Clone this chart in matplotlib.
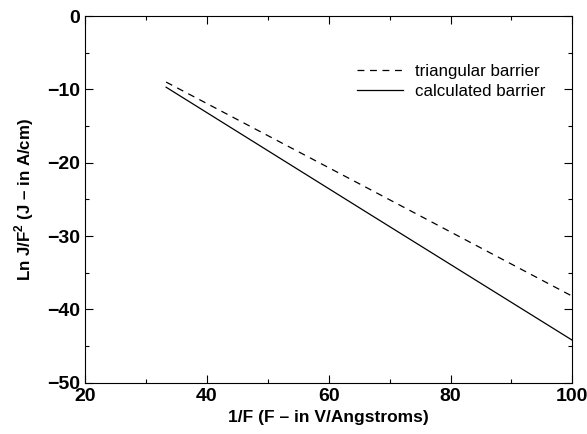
import matplotlib
matplotlib.use('Agg')
import matplotlib.pyplot as plt
from matplotlib.ticker import MultipleLocator

plt.rcParams['font.family'] = ['Liberation Sans', 'DejaVu Sans']
plt.rcParams['mathtext.fontset'] = 'custom'
plt.rcParams['mathtext.rm'] = 'Liberation Sans'
plt.rcParams['mathtext.bf'] = 'Liberation Sans:bold'

# data (straight lines)
inv_field = [33.3, 66.7, 100.0]
triangular = [-9.0, -23.6, -38.2]
calculated = [-9.7, -27.0, -44.2]

fig, ax = plt.subplots(figsize=(5.87, 4.34), dpi=100)
fig.subplots_adjust(left=0.145, right=0.975, top=0.963, bottom=0.118)

ax.plot(inv_field, triangular, color='black', lw=0.9, ls=(0, (5.5, 4.5)),
        label='triangular barrier')
ax.plot(inv_field, calculated, color='black', lw=0.9, label='calculated barrier')

ax.set_xlim(20, 100)
ax.set_ylim(-50, 0)
ax.xaxis.set_major_locator(MultipleLocator(20))
ax.xaxis.set_minor_locator(MultipleLocator(10))
ax.yaxis.set_major_locator(MultipleLocator(10))
ax.yaxis.set_minor_locator(MultipleLocator(5))
ax.tick_params(which='both', direction='in', top=True, right=True,
               labelsize=14, width=0.8)
ax.tick_params(which='major', length=6)
ax.tick_params(which='minor', length=3)
for lab in ax.get_xticklabels() + ax.get_yticklabels():
    lab.set_fontweight('bold')
for s in ax.spines.values():
    s.set_linewidth(0.8)

ax.set_xlabel('1/F (F \u2013 in V/Angstroms)', fontsize=12.5, fontweight='bold')
ax.set_ylabel('Ln J/F$^{\\mathbf{2}}$ (J \u2013 in A/cm)', fontsize=12.2,
              fontweight='bold', labelpad=8)

ax.legend(loc='upper right', bbox_to_anchor=(0.976, 0.912), frameon=False,
          fontsize=12.2, handlelength=2.7, handletextpad=0.7, labelspacing=0.3)

fig.savefig('out.png', dpi=100)
